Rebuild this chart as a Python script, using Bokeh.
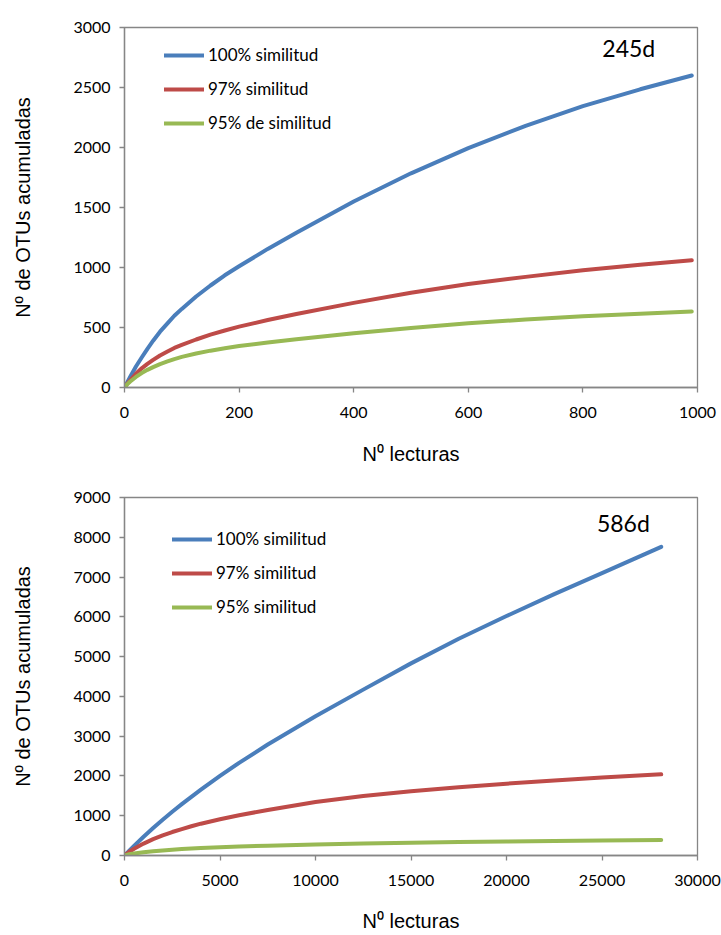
from bokeh.plotting import figure
from bokeh.models import Range1d, FixedTicker, Legend, LegendItem, Label
from bokeh.layouts import column
from bokeh.embed import file_html
from bokeh.resources import INLINE

# ---- data: 245d ----
x_245 = [0, 5, 10, 20, 30, 40, 50, 62, 75, 87, 100, 125, 150, 175, 200, 250, 300, 400, 500, 600, 700, 800, 900, 990]
y_245_100 = [0, 45, 90, 175, 250, 322, 390, 465, 535, 598, 655, 758, 850, 935, 1010, 1155, 1290, 1550, 1785, 1995, 2180, 2345, 2485, 2600]
y_245_97 = [0, 32, 60, 115, 160, 197, 230, 267, 300, 330, 355, 400, 440, 475, 507, 562, 612, 705, 790, 862, 922, 977, 1022, 1060]
y_245_95 = [0, 28, 50, 88, 120, 147, 170, 195, 217, 237, 255, 283, 307, 327, 345, 375, 402, 452, 496, 535, 567, 594, 615, 633]
labels_245 = ["100% similitud", "97% similitud", "95% de similitud"]

# ---- data: 586d ----
x_586 = [0, 250, 500, 1000, 1500, 2000, 2500, 3000, 3500, 4000, 5000, 6000, 7500, 10000,
         12500, 15000, 17500, 20000, 22500, 25000, 28100]
y_586_100 = [0, 120, 240, 470, 690, 900, 1100, 1290, 1475, 1655, 2000, 2330, 2790, 3500,
             4170, 4830, 5450, 6020, 6570, 7100, 7760]
y_586_97 = [0, 95, 170, 300, 410, 505, 590, 665, 735, 800, 910, 1010, 1145, 1345,
            1495, 1615, 1715, 1805, 1885, 1960, 2040]
y_586_95 = [0, 30, 50, 82, 107, 128, 146, 162, 176, 188, 208, 225, 247, 277,
            300, 320, 337, 351, 364, 376, 390]
labels_586 = ["100% similitud", "97% similitud", "95% similitud"]

colors = ["#4A7EBB", "#BE4B48", "#98B954"]
TICK_FONT = "Lato"
TITLE_FONT = "Liberation Sans"
GREY = "#868686"


def make_fig(xs, ys_list, labels, xmax, ymax, xstep, ystep, tag, tag_xy,
             height, left, top, bottom, leg_loc, leg_spacing, xlab_standoff):
    p = figure(width=721, height=height, output_backend="svg", toolbar_location=None,
               x_range=Range1d(0, xmax), y_range=Range1d(0, ymax),
               min_border_left=left, min_border_right=24,
               min_border_top=top, min_border_bottom=bottom)
    p.xgrid.visible = False
    p.ygrid.visible = False
    p.outline_line_color = GREY
    p.outline_line_width = 1.3
    p.background_fill_color = "white"
    p.border_fill_color = "white"

    p.xaxis.ticker = FixedTicker(ticks=list(range(0, xmax + 1, xstep)))
    p.yaxis.ticker = FixedTicker(ticks=list(range(0, ymax + 1, ystep)))
    for ax in (p.xaxis, p.yaxis):
        ax.axis_line_color = GREY
        ax.axis_line_width = 1.3
        ax.major_tick_line_color = GREY
        ax.major_tick_line_width = 1.3
        ax.major_tick_in = 0
        ax.major_tick_out = 5
        ax.minor_tick_line_color = None
        ax.major_label_text_font = TICK_FONT
        ax.major_label_text_font_size = "16px"
        ax.major_label_text_color = "black"
        ax.axis_label_text_font = TITLE_FONT
        ax.axis_label_text_font_size = "20px"
        ax.axis_label_text_font_style = "normal"
        ax.axis_label_text_color = "black"
    p.yaxis.major_label_standoff = 9
    p.xaxis.major_label_standoff = 14
    p.xaxis.axis_label = "N\u2070 lecturas"
    p.yaxis.axis_label = "N\u00ba de OTUs acumuladas"
    p.xaxis.axis_label_standoff = xlab_standoff
    p.yaxis.axis_label_standoff = 36
    p.xaxis.formatter.use_scientific = False
    p.yaxis.formatter.use_scientific = False

    items = []
    for ys, lab, c in zip(ys_list, labels, colors):
        r = p.line(xs, ys, line_color=c, line_width=4, line_cap="round", line_join="round")
        items.append(LegendItem(label=lab, renderers=[r]))

    leg = Legend(items=items, location=leg_loc, orientation="vertical",
                 glyph_width=40, glyph_height=20, label_height=20, label_standoff=4,
                 spacing=leg_spacing, padding=0, margin=0,
                 border_line_color=None, background_fill_alpha=0,
                 label_text_font=TICK_FONT, label_text_font_size="17px",
                 label_text_color="black")
    p.add_layout(leg)

    p.add_layout(Label(x=tag_xy[0], y=tag_xy[1], text=tag, text_align="center",
                       text_baseline="middle", text_font=TICK_FONT,
                       text_font_size="23px", text_color="black"))
    return p


p1 = make_fig(x_245, [y_245_100, y_245_97, y_245_95], labels_245, 1000, 3000, 200, 500,
              "245d", (880, 2833), 470, 124, 27, 83, (40, 254), 13, 22)
p2 = make_fig(x_586, [y_586_100, y_586_97, y_586_95], labels_586, 30000, 9000, 5000, 1000,
              "586d", (26120, 8360), 465, 118, 27, 80, (48, 238), 13, 21)

layout = column(p1, p2, spacing=0)
open("out.html", "w").write(file_html(layout, INLINE))
